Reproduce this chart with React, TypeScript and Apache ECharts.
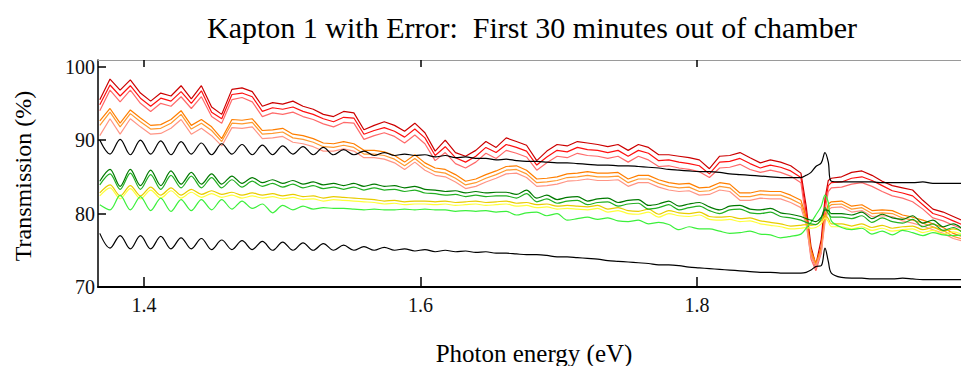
import { useEffect, useRef } from "react";
import * as echarts from "echarts";

// Photon energy sampling grid (eV)
const energy = [
  1.3680, 1.3754, 1.3827, 1.3901, 1.3974, 1.4048, 1.4121, 1.4195, 1.4268, 1.4342,
  1.4415, 1.4489, 1.4562, 1.4636, 1.4709, 1.4783, 1.4856, 1.4930, 1.5003, 1.5077,
  1.5150, 1.5224, 1.5297, 1.5371, 1.5444, 1.5518, 1.5591, 1.5665, 1.5738, 1.5812,
  1.5885, 1.5959, 1.6032, 1.6106, 1.6179, 1.6253, 1.6326, 1.6400, 1.6473, 1.6547,
  1.6620, 1.6694, 1.6767, 1.6841, 1.6914, 1.6988, 1.7061, 1.7135, 1.7208, 1.7282,
  1.7355, 1.7429, 1.7502, 1.7576, 1.7649, 1.7723, 1.7796, 1.7870, 1.7943, 1.8017,
  1.8090, 1.8164, 1.8237, 1.8311, 1.8384, 1.8458, 1.8531, 1.8605, 1.8678, 1.8752,
  1.8790, 1.8825, 1.8860, 1.8899, 1.8926, 1.8950, 1.8972,
  1.9046, 1.9119, 1.9193, 1.9266, 1.9340, 1.9413, 1.9487, 1.9560, 1.9634, 1.9707, 1.9781, 1.9854, 1.9928,
];

const xTicks = [1.4, 1.6, 1.8];
const yTicks = [70, 80, 90, 100];

const redDark = [
  95.5, 98.3, 96.8, 98.2, 96.4, 95.3, 96.4, 96.0, 97.4, 95.6,
  97.4, 94.5, 93.5, 96.9, 97.1, 96.6, 94.6, 95.1, 94.9, 95.3,
  94.6, 94.2, 93.5, 93.2, 93.9, 93.7, 91.4, 92.0, 92.5, 92.0,
  91.2, 92.3, 91.0, 88.5, 90.0, 88.3, 87.8, 88.6, 89.8, 89.0,
  90.3, 89.8, 89.3, 87.2, 88.5, 89.4, 89.2, 89.8, 89.6, 89.4,
  89.1, 89.4, 88.6, 89.4, 89.0, 88.0, 88.0, 87.8, 87.6, 87.3,
  86.1, 87.8, 87.9, 88.3, 87.6, 86.9, 87.3, 87.0, 86.5, 85.5,
  81.0, 75.5, 73.0, 76.5, 82.0, 84.5, 84.8,
  85.0, 85.6, 85.8, 85.2, 84.4, 83.8, 83.5, 83.2, 81.8, 80.6, 80.2, 79.6, 79.0,
];
const redMid = [
  94.8, 97.5, 96.0, 97.4, 95.7, 94.6, 95.7, 95.3, 96.6, 95.0,
  96.7, 93.8, 92.9, 96.2, 96.4, 95.9, 93.9, 94.4, 94.2, 94.5,
  93.9, 93.5, 92.9, 92.5, 93.1, 93.0, 90.8, 91.3, 91.7, 91.2,
  90.4, 91.5, 90.3, 87.9, 89.1, 87.6, 87.0, 87.8, 89.0, 88.3,
  89.4, 89.0, 88.5, 86.6, 87.7, 88.6, 88.4, 89.0, 88.7, 88.6,
  88.3, 88.6, 87.8, 88.6, 88.2, 87.2, 87.3, 87.0, 86.8, 86.5,
  85.4, 87.0, 87.1, 87.5, 86.8, 86.2, 86.6, 86.3, 85.8, 84.9,
  80.0, 74.5, 72.6, 75.5, 81.2, 83.8, 84.2,
  84.3, 84.8, 85.0, 84.5, 83.8, 83.1, 82.8, 82.4, 81.2, 80.0, 79.6, 79.0, 78.4,
];
const redLight = [
  94.0, 96.8, 95.2, 96.8, 95.0, 93.9, 95.0, 94.6, 95.9, 94.3,
  95.9, 93.2, 92.3, 95.5, 95.8, 95.2, 93.2, 93.7, 93.5, 93.8,
  93.2, 92.8, 92.2, 91.8, 92.4, 92.3, 90.1, 90.6, 91.0, 90.5,
  89.6, 90.7, 89.5, 87.2, 88.3, 86.8, 86.2, 87.0, 88.2, 87.5,
  88.6, 88.2, 87.7, 85.9, 86.9, 87.8, 87.6, 88.2, 87.9, 87.8,
  87.5, 87.8, 87.0, 87.8, 87.3, 86.4, 86.5, 86.2, 86.0, 85.7,
  84.9, 86.2, 86.3, 86.7, 86.0, 85.6, 85.9, 85.6, 85.1, 84.2,
  79.0, 73.8, 72.2, 74.6, 80.3, 83.0, 83.5,
  83.6, 84.0, 84.2, 83.7, 83.0, 82.4, 82.1, 81.6, 80.6, 79.4, 79.0, 78.4, 77.9,
];
const orangeTop = [
  92.6, 94.3, 92.3, 94.1, 93.0, 92.0, 92.1, 92.8, 94.0, 92.0,
  92.8, 91.8, 90.2, 92.8, 92.7, 92.9, 91.3, 91.4, 91.6, 90.8,
  90.6, 90.2, 89.6, 89.5, 89.8, 89.5, 88.6, 88.6, 88.4, 87.9,
  87.0, 88.0, 86.9, 86.2, 86.0, 85.3, 84.4, 84.7, 85.3, 85.8,
  86.4, 86.5, 85.9, 84.7, 84.8, 85.0, 85.4, 85.5, 85.7, 85.5,
  85.5, 85.6, 84.7, 85.2, 85.2, 84.6, 84.2, 84.0, 84.1, 83.5,
  83.6, 84.2, 84.0, 82.8, 82.8, 83.1, 83.0, 83.0, 82.5, 81.8,
  79.5, 75.0, 73.2, 75.3, 79.6, 81.3, 81.6,
  81.7, 81.0, 81.2, 80.4, 80.5, 80.4, 79.8, 79.5, 79.1, 78.6, 78.1, 77.3, 76.8,
];
const orangeMid = [
  92.0, 93.8, 91.8, 93.6, 92.5, 91.5, 91.6, 92.3, 93.5, 91.5,
  92.3, 91.3, 89.8, 92.3, 92.2, 92.4, 90.8, 90.9, 91.1, 90.3,
  90.1, 89.7, 89.1, 89.0, 89.3, 89.0, 88.1, 88.1, 87.9, 87.4,
  86.5, 87.5, 86.4, 85.7, 85.5, 84.8, 83.9, 84.2, 84.8, 85.3,
  85.9, 86.0, 85.4, 84.2, 84.3, 84.5, 84.9, 85.0, 85.2, 85.0,
  85.0, 85.1, 84.2, 84.7, 84.7, 84.1, 83.7, 83.5, 83.6, 83.0,
  83.1, 83.7, 83.5, 82.3, 82.3, 82.6, 82.5, 82.5, 82.0, 81.3,
  79.0, 74.6, 73.0, 75.0, 79.2, 80.9, 81.2,
  81.3, 80.6, 80.8, 80.0, 80.1, 80.0, 79.4, 79.1, 78.7, 78.2, 77.7, 76.9, 76.5,
];
const orangeLow = [
  90.6, 92.9, 90.8, 92.9, 91.8, 90.8, 90.9, 91.6, 92.8, 90.8,
  91.6, 90.6, 89.2, 91.7, 91.6, 91.8, 90.2, 90.3, 90.5, 89.7,
  89.5, 89.1, 88.5, 88.5, 88.8, 88.5, 87.6, 87.6, 87.4, 86.9,
  86.0, 87.0, 85.9, 85.2, 85.0, 84.3, 83.4, 83.7, 84.3, 84.8,
  85.4, 85.5, 84.9, 83.7, 83.8, 84.0, 84.4, 84.5, 84.7, 84.5,
  84.5, 84.6, 83.7, 84.2, 84.2, 83.6, 83.2, 83.0, 83.1, 82.5,
  82.6, 83.2, 83.0, 81.8, 81.8, 82.1, 82.0, 82.0, 81.5, 80.8,
  78.5, 74.2, 72.8, 74.7, 78.8, 80.5, 80.8,
  80.9, 80.2, 80.4, 79.6, 79.7, 79.6, 79.0, 78.7, 78.3, 77.8, 77.3, 76.6, 76.2,
];
const greenDark = [
  84.4, 86.0, 83.7, 86.0, 83.8, 85.9, 83.8, 85.8, 84.0, 85.6,
  84.0, 85.4, 84.0, 85.1, 84.1, 84.9, 84.2, 84.6, 84.1, 84.5,
  84.0, 84.3, 83.9, 84.1, 83.8, 84.1, 83.7, 84.0, 83.7, 83.8,
  83.5, 83.7, 83.3, 83.2, 83.0, 83.1, 82.8, 83.0, 82.8, 82.9,
  82.9, 82.6, 83.2, 82.1, 82.5, 81.9, 82.2, 82.3, 81.7, 82.0,
  82.1, 81.5, 81.8, 81.9, 81.1, 81.3, 81.7, 81.0, 81.3, 81.5,
  80.9, 80.5, 81.0, 81.1, 80.6, 80.5, 80.7, 80.1, 79.9, 79.6,
  79.3, 79.1, 78.9, 79.5, 80.5, 80.4, 80.0,
  80.0, 79.8, 80.2, 79.3, 79.9, 79.4, 79.2, 79.7, 78.7, 79.1, 78.2, 78.6, 77.8,
];
const greenMid = [
  83.9, 85.4, 83.3, 85.5, 83.3, 85.3, 83.3, 85.2, 83.5, 85.1,
  83.5, 84.9, 83.5, 84.6, 83.6, 84.4, 83.7, 84.1, 83.6, 84.0,
  83.5, 83.8, 83.4, 83.6, 83.3, 83.6, 83.2, 83.5, 83.2, 83.3,
  83.0, 83.2, 82.8, 82.7, 82.5, 82.6, 82.3, 82.5, 82.3, 82.4,
  82.4, 82.1, 82.7, 81.6, 82.0, 81.4, 81.7, 81.8, 81.2, 81.5,
  81.6, 81.0, 81.3, 81.4, 80.6, 80.8, 81.2, 80.5, 80.8, 81.0,
  80.4, 80.0, 80.5, 80.6, 80.1, 80.0, 80.2, 79.6, 79.4, 79.1,
  78.8, 78.6, 78.5, 79.3, 80.8, 80.0, 79.5,
  79.5, 79.3, 79.7, 78.8, 79.4, 78.9, 78.7, 79.2, 78.2, 78.6, 77.7, 78.1, 77.3,
];
const yellowDark = [
  82.8, 83.9, 82.4, 83.8, 82.4, 83.6, 82.5, 83.5, 82.5, 83.3,
  82.6, 83.1, 82.6, 82.9, 82.5, 82.8, 82.5, 82.7, 82.4, 82.6,
  82.3, 82.4, 82.1, 82.3, 82.2, 82.1, 82.0, 81.9, 81.7, 81.8,
  81.6, 81.7, 81.7, 81.6, 81.7, 81.5, 81.6, 81.7, 81.5, 81.6,
  81.7, 81.4, 81.5, 81.2, 81.3, 81.0, 81.1, 81.0, 80.9, 81.1,
  80.6, 80.8, 80.4, 80.3, 80.6, 79.9, 80.4, 80.1, 80.0, 80.2,
  79.6, 79.5, 79.6, 79.3, 79.4, 79.0, 78.8, 78.6, 78.3, 78.4,
  78.5, 78.4, 78.5, 79.0, 79.8, 79.3, 78.6,
  78.6, 78.3, 78.6, 78.1, 78.4, 78.0, 78.2, 78.3, 77.8, 78.1, 77.6, 77.9, 77.5,
];
const yellowLight = [
  82.4, 83.5, 82.0, 83.4, 82.0, 83.2, 82.1, 83.1, 82.1, 82.9,
  82.2, 82.7, 82.2, 82.5, 82.1, 82.4, 82.1, 82.3, 82.0, 82.2,
  81.9, 82.0, 81.7, 81.9, 81.8, 81.7, 81.6, 81.5, 81.3, 81.4,
  81.2, 81.3, 81.3, 81.2, 81.3, 81.1, 81.2, 81.3, 81.1, 81.2,
  81.3, 81.0, 81.1, 80.8, 80.9, 80.6, 80.7, 80.6, 80.5, 80.7,
  80.2, 80.4, 80.0, 79.9, 80.2, 79.5, 80.0, 79.7, 79.6, 79.8,
  79.2, 79.1, 79.2, 78.9, 79.0, 78.6, 78.4, 78.2, 77.9, 78.0,
  78.1, 78.0, 78.1, 78.6, 79.4, 78.9, 78.2,
  78.2, 77.9, 78.2, 77.7, 78.0, 77.6, 77.8, 77.9, 77.4, 77.7, 77.2, 77.5, 77.1,
];
const greenLight = [
  81.2, 80.5, 82.5, 80.5, 82.3, 80.4, 82.1, 80.3, 81.9, 80.4,
  81.9, 80.5, 81.9, 80.6, 81.7, 80.7, 81.3, 80.1, 81.1, 80.5,
  81.0, 80.6, 80.8, 80.7, 80.7, 80.6, 80.5, 80.6, 80.5, 80.5,
  80.6, 80.5, 80.6, 80.5, 80.5, 80.3, 80.4, 80.3, 80.4, 80.2,
  80.3, 79.8, 80.1, 80.2, 79.7, 80.0, 79.1, 79.3, 79.5, 79.2,
  79.4, 79.0, 78.9, 79.1, 78.6, 78.8, 78.5, 77.8, 78.2, 77.9,
  77.9, 77.6, 77.3, 77.4, 77.6, 77.2, 77.1, 76.7, 76.9, 77.2,
  78.0, 78.8, 79.8, 81.0, 82.5, 81.5, 79.0,
  78.1, 77.8, 78.0, 77.2, 77.6, 77.1, 77.7, 77.4, 77.0, 77.4, 77.1, 77.0, 77.1,
];
const blackUpper = [
  90.0, 88.1, 90.1, 88.0, 90.0, 88.1, 89.9, 88.0, 89.8, 88.1,
  89.6, 88.0, 89.5, 88.1, 89.4, 88.0, 89.3, 88.0, 89.2, 88.1,
  89.1, 88.0, 89.0, 88.0, 88.7, 88.0, 88.5, 87.9, 88.3, 87.9,
  88.1, 87.9, 88.0, 87.7, 87.9, 87.6, 87.7, 87.5, 87.5, 87.3,
  87.4, 87.2, 87.1, 87.1, 87.0, 86.9, 86.9, 86.8, 86.7, 86.6,
  86.6, 86.5, 86.5, 86.4, 86.3, 86.2, 86.0, 85.9, 85.8, 85.7,
  85.7, 85.6, 85.4, 85.3, 85.2, 85.1, 85.0, 84.9, 84.9, 84.9,
  85.2, 85.6, 86.4, 86.9, 88.3, 87.0, 84.4,
  84.3, 84.3, 84.3, 84.3, 84.2, 84.2, 84.2, 84.2, 84.3, 84.1, 84.1, 84.1, 84.1,
];
const blackLower = [
  77.3, 75.3, 77.0, 75.2, 77.0, 75.2, 76.9, 75.2, 76.7, 75.2,
  76.6, 75.1, 76.4, 75.1, 76.3, 75.1, 76.2, 75.0, 76.1, 75.0,
  76.0, 75.0, 75.9, 75.0, 75.7, 75.0, 75.5, 75.0, 75.4, 75.0,
  75.2, 74.9, 75.1, 74.8, 75.0, 74.8, 74.9, 74.7, 74.8, 74.6,
  74.6, 74.5, 74.4, 74.4, 74.3, 74.1, 74.1, 74.0, 73.9, 73.8,
  73.6, 73.5, 73.4, 73.3, 73.2, 73.0, 73.0, 72.9, 72.7, 72.6,
  72.5, 72.4, 72.3, 72.2, 72.1, 72.0, 72.0, 71.9, 71.9, 71.9,
  72.0, 72.3, 72.8, 72.9, 75.3, 73.5, 71.9,
  71.3, 71.2, 71.2, 71.1, 71.1, 71.1, 71.2, 71.1, 71.0, 71.0, 71.0, 71.0, 71.0,
];

const FONT = "Liberation Serif";

export default function App() {
  const ref = useRef<HTMLDivElement>(null);

  useEffect(() => {
    if (!ref.current) return;
    const chart = echarts.init(ref.current, null, { renderer: "svg" });

    const mk = (name: string, vals: number[], color: string, smooth: number) => ({
      name,
      type: "line",
      xAxisIndex: 0,
      yAxisIndex: 0,
      data: energy.map((e, k) => [e, vals[k]]),
      symbol: "none",
      showSymbol: false,
      silent: true,
      clip: true,
      smooth,
      lineStyle: { color, width: 1.2 },
      itemStyle: { color },
    });

    chart.setOption({
      animation: false,
      backgroundColor: "#ffffff",
      textStyle: { fontFamily: FONT },
      title: {
        text: "Kapton 1 with Error:  First 30 minutes out of chamber",
        left: 532,
        top: 12,
        padding: 0,
        textAlign: "center",
        textStyle: { fontFamily: FONT, fontSize: 30, fontWeight: "normal", color: "#000" },
      },
      grid: { left: 98, right: 0, top: 60, bottom: 79, containLabel: false, outerBoundsMode: "none" },
      xAxis: [
        {
          type: "value",
          position: "bottom",
          min: 1.3667,
          max: 1.991,
          name: "Photon energy (eV)",
          nameLocation: "middle",
          nameGap: 66,
          nameTextStyle: {
            fontFamily: FONT,
            fontSize: 25,
            color: "#000",
            verticalAlign: "middle",
            padding: [0, 0, 0, 9],
          },
          axisLine: { show: true, lineStyle: { color: "#000", width: 2 } },
          axisTick: { show: true, inside: true, length: 10, customValues: xTicks, lineStyle: { color: "#000", width: 1.5 } },
          axisLabel: {
            show: true,
            customValues: xTicks,
            margin: 8,
            fontFamily: FONT,
            fontSize: 20,
            color: "#111",
            formatter: (v: number) => v.toFixed(1),
          },
          splitLine: { show: false },
        },
        {
          type: "value",
          position: "top",
          min: 1.3667,
          max: 1.991,
          axisLine: { show: true, lineStyle: { color: "#9a9a9a", width: 1 } },
          axisTick: { show: true, inside: true, length: 7, customValues: xTicks, lineStyle: { color: "#000", width: 1.5 } },
          axisLabel: { show: false },
          splitLine: { show: false },
        },
      ],
      yAxis: {
        type: "value",
        min: 70,
        max: 100.9,
        name: "Transmission (%)",
        nameLocation: "middle",
        nameGap: 75,
        nameTextStyle: {
          fontFamily: FONT,
          fontSize: 24,
          color: "#000",
          verticalAlign: "middle",
          padding: [0, 5, 0, 0],
        },
        axisLine: { show: true, lineStyle: { color: "#000", width: 1.5 } },
        axisTick: { show: true, inside: true, length: 8, customValues: yTicks, lineStyle: { color: "#000", width: 1.5 } },
        axisLabel: {
          show: true,
          customValues: yTicks,
          margin: 3,
          padding: [9, 0, 0, 0],
          fontFamily: FONT,
          fontSize: 20,
          color: "#111",
          formatter: (v: number) => String(Math.round(v)),
        },
        splitLine: { show: false },
      },
      series: [
        mk("Red (upper)", redDark, "#cc0000", 0),
        mk("Red", redMid, "#ff1010", 0),
        mk("Red (lower)", redLight, "#ff6a6a", 0),
        mk("Orange (upper)", orangeTop, "#ff7f00", 0),
        mk("Orange", orangeMid, "#ff9a30", 0),
        mk("Orange (lower)", orangeLow, "#ff9484", 0),
        mk("Yellow", yellowDark, "#e8cc00", 0.3),
        mk("Yellow (light)", yellowLight, "#ffff3a", 0.3),
        mk("Light green", greenLight, "#3cf03c", 0.3),
        mk("Green", greenMid, "#22b022", 0.3),
        mk("Dark green", greenDark, "#007a00", 0.3),
        mk("Black (upper)", blackUpper, "#000000", 0.35),
        mk("Black (lower)", blackLower, "#000000", 0.35),
      ],
    });

    return () => chart.dispose();
  }, []);

  return (
    <div
      ref={ref}
      style={{ position: "fixed", left: 0, top: 0, width: 961, height: 366, background: "#fff" }}
    />
  );
}
